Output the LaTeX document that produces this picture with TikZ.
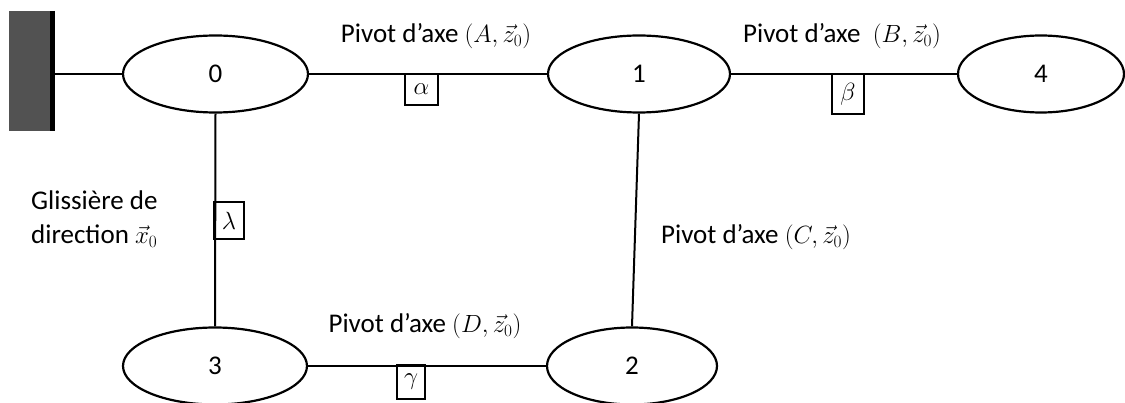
\documentclass[tikz,border=0pt]{standalone}
\usepackage{fontspec}
\setmainfont{Carlito}
\usetikzlibrary{shapes.geometric}
\newcommand{\pvmath}[1]{{\fontsize{25}{30}\selectfont$#1$}}
\begin{document}
\begin{tikzpicture}[x=1pt,y=-1pt,
  part/.style={draw,ellipse,line width=2.2pt,inner sep=0pt,font=\fontsize{27}{30}\selectfont},
  link/.style={line width=2pt},
  param/.style={draw,line width=1.8pt,inner sep=0pt,font=\fontsize{26}{28}\selectfont},
  lbl/.style={font=\fontsize{27}{34}\selectfont,inner sep=0pt}]
\useasboundingbox (0,0) rectangle (1125,403);
% wall
\node[fill=black!68,inner sep=0pt,minimum width=46pt,minimum height=120pt] (wall) at (32,71) {};
\draw[line width=5pt] ([xshift=-2.5pt]wall.north east) -- ([xshift=-2.5pt]wall.south east);
% parts
\node[part,minimum width=185pt,minimum height=77pt] (e0) at (215.5,74) {0};
\node[part,minimum width=182pt,minimum height=77pt] (e1) at (639,74) {1};
\node[part,minimum width=166pt,minimum height=77pt] (e4) at (1041,74) {4};
\node[part,minimum width=184pt,minimum height=77pt] (e3) at (215,366) {3};
\node[part,minimum width=170pt,minimum height=77pt] (e2) at (632,366) {2};
% links
\draw[link] (wall.east |- e0.west) -- (e0.west);
\draw[link] (e0.east) -- (e1.west);
\draw[link] (e1.east) -- (e4.west);
\draw[link] (e0.south) -- (e3.north);
\draw[link] (e1.south) -- (e2.north);
\draw[link] (e3.east) -- (e2.west);
% parameter boxes
\node[param,minimum width=33pt,minimum height=31pt] (ba) at (421.5,89.5) {$\alpha$};
\node[param,minimum width=32pt,minimum height=40pt] (bb) at (848,94) {$\beta$};
\node[param,minimum width=30pt,minimum height=37pt] (bl) at (229,220.5) {$\lambda$};
\node[param,minimum width=28pt,minimum height=34pt] (bg) at (411,382) {$\gamma$};
% labels
\node[lbl] (la) at (436,36) {Pivot d’axe \pvmath{(A,\vec{z}_0)}};
\node[lbl] (lb) at (842,36) {Pivot d’axe \ \pvmath{(B,\vec{z}_0)}};
\node[lbl] (lc) at (756,237) {Pivot d’axe \pvmath{(C,\vec{z}_0)}};
\node[lbl] (ld) at (425,326) {Pivot d’axe \pvmath{(D,\vec{z}_0)}};
\node[lbl,align=left,anchor=west] (lg) at (31,219) {Glissière de\\direction \pvmath{\vec{x}_0}};
\end{tikzpicture}
\end{document}
